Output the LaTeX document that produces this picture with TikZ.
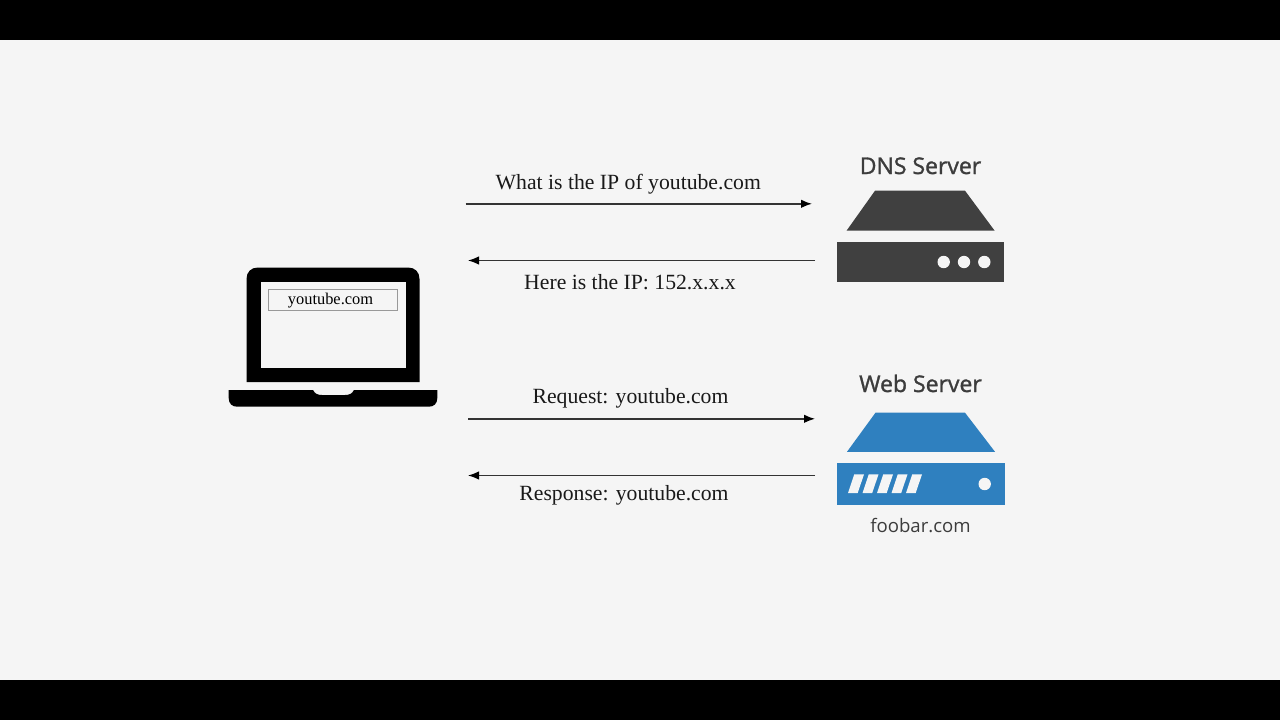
\documentclass[tikz,border=0pt]{standalone}
\usepackage{fontspec}
\setmainfont{Liberation Serif}
\newfontfamily\osans{Open Sans}
\newfontfamily\osemi[FakeBold=1.3]{Open Sans}
\usetikzlibrary{arrows.meta}
\definecolor{pagebg}{HTML}{F5F5F5}
\definecolor{dnsgray}{HTML}{404040}
\definecolor{webblue}{HTML}{2F80BF}
\definecolor{titlegray}{HTML}{3C3C3C}
\tikzset{
  flow/.style={draw=black!80,line width=1.4pt,-{Latex[length=11pt,width=8.5pt,black]}},
  msg/.style={inner sep=0pt,anchor=base,font=\fontsize{21.7}{25}\selectfont,text=black!90},
  srvtitle/.style={inner sep=0pt,anchor=base,font=\osemi\fontsize{23}{26}\selectfont,text=titlegray},
  srvcap/.style={inner sep=0pt,anchor=base,font=\osans\fontsize{18.6}{23}\selectfont,text=titlegray},
  led/.style={circle,fill=pagebg,minimum size=12.4pt,inner sep=0pt},
  stripe/.style={fill=pagebg,draw=none}
}
\begin{document}
\begin{tikzpicture}[x=1pt,y=-1pt]
\useasboundingbox (0,0) rectangle (1280,720);
\fill[pagebg] (0,0) rectangle (1280,720);
\fill[black] (0,0) rectangle (1280,40);
\fill[black] (0,680) rectangle (1280,720);
% laptop
\fill[black] (246.5,382) -- (246.5,279) .. controls (246.5,272) and (251,267.5) .. (258,267.5) -- (408,267.5) .. controls (415,267.5) and (419.5,272) .. (419.5,279) -- (419.5,382) -- cycle;
\fill[pagebg] (260.5,281.5) rectangle (405.7,368.3);
\fill[black] (228.7,390) -- (313,390) .. controls (315,394) and (318,395) .. (322,395) -- (345,395) .. controls (349,395) and (352,394) .. (354,390) -- (437.3,390) -- (437.3,398) .. controls (437.3,403.5) and (434,406.7) .. (429,406.7) -- (237,406.7) .. controls (232,406.7) and (228.7,403.5) .. (228.7,398) -- cycle;
\node[draw=black!40,line width=0.8pt,minimum width=128.4pt,minimum height=21.3pt,inner sep=0pt,anchor=north west] (urlbar) at (268.3,289) {};
\node[inner sep=0pt,anchor=base,font=\fontsize{16.4}{19}\selectfont] (urltext) at (330.5,304.3) {youtube.com};
% DNS server
\node[srvtitle] (dnstitle) at (920.5,174) {DNS Server};
\fill[dnsgray] (875,190.7) -- (965,190.7) -- (994.5,230.5) -- (846.7,230.5) -- cycle;
\fill[dnsgray] (837,242) rectangle (1004,281.5);
\node[led] (dnsa) at (943.7,262) {};
\node[led] (dnsb) at (964,262) {};
\node[led] (dnsc) at (984.3,262) {};
% Web server
\node[srvtitle] (webtitle) at (920.5,392) {Web Server};
\fill[webblue] (875.5,412.7) -- (965,412.7) -- (995,451.8) -- (847,451.8) -- cycle;
\fill[webblue] (837,462.7) rectangle (1004.5,504.7);
\foreach \i in {0,1,2,3,4}{
  \fill[stripe,xshift=14.5*\i] (848,493) -- (854.3,474.3) -- (864,474.3) -- (857.7,493) -- cycle;
}
\node[led] (webled) at (984.7,484) {};
\node[srvcap] (webcap) at (920.5,532) {foobar.com};
% arrows
\coordinate (a1s) at (465.5,203.8); \coordinate (a1e) at (812,203.8);
\coordinate (a2s) at (815,260.5);   \coordinate (a2e) at (468,260.5);
\coordinate (a3s) at (468,418.8);   \coordinate (a3e) at (815,418.8);
\coordinate (a4s) at (815,475.5);   \coordinate (a4e) at (468,475.5);
\draw[flow] (a1s) -- (a1e);
\draw[flow] (a2s) -- (a2e);
\draw[flow] (a3s) -- (a3e);
\draw[flow] (a4s) -- (a4e);
\node[msg] (m1) at (628.3,189.5) {What is the IP of youtube.com};
\node[msg] (m2) at (630,289) {Here is the IP: 152.x.x.x};
\node[msg] (m3) at (630.5,403.5) {Request: youtube.com};
\node[msg] (m4) at (624,500) {Response: youtube.com};
\end{tikzpicture}
\end{document}
